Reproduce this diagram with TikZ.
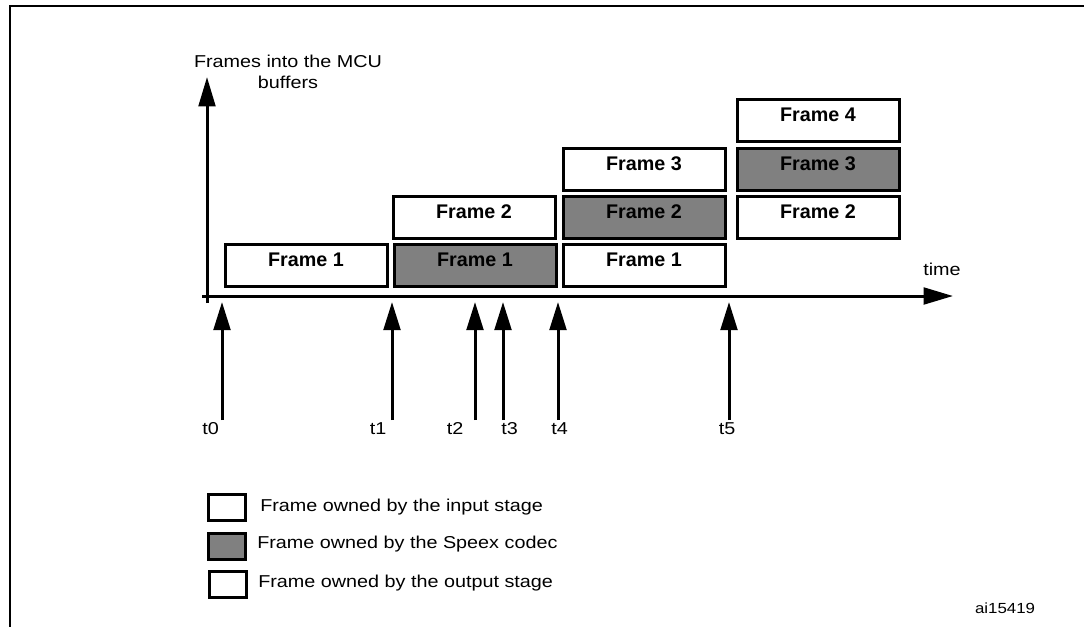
\documentclass[tikz,border=0pt]{standalone}
\usepackage{fontspec}
\setmainfont[FakeStretch=1.15]{Liberation Sans}
\newfontfamily\boldfr{Liberation Sans Bold}
\usetikzlibrary{arrows.meta}
\definecolor{codecgray}{HTML}{808080}
\tikzset{
  fr/.style={draw=black, line width=2.25pt, inner sep=0pt, minimum width=121.5pt,
    text height=16.5pt, text depth=15pt, font=\boldfr\fontsize{14.8pt}{16pt}\selectfont},
  inbox/.style={fr, fill=white},
  codecbox/.style={fr, fill=codecgray},
  lgbox/.style={draw=black, line width=2.25pt, inner sep=0pt, minimum width=27.75pt, minimum height=19.5pt},
  lbl/.style={inner sep=0pt, font=\fontsize{12.9pt}{15pt}\selectfont},
  axis/.style={line width=2.25pt, -{Triangle[length=22pt,width=12.5pt]}},
  tick/.style={line width=2.25pt, -{Triangle[length=21pt,width=12.5pt]}},
}
\begin{document}
\begin{tikzpicture}[x=0.75pt,y=-0.75pt]
\useasboundingbox (0,0) rectangle (1084,626);
% outer frame (cropped)
\draw[line width=1.6pt] (10,640) -- (10,6) -- (1090,6);
% axes
\coordinate (vbot) at (207,303);
\coordinate (vtop) at (207,77);
\coordinate (hl) at (202,296);
\coordinate (hr) at (953,296);
\draw[axis] (vbot) -- (vtop);
\draw[axis] (hl) -- (hr);
\node[lbl, anchor=base] (ylab1) at (288,67) {Frames into the MCU};
\node[lbl, anchor=base] (ylab2) at (288,88) {buffers};
\node[lbl, anchor=base] (tlab) at (942,275) {time};
% frames
\node[inbox, anchor=north] (a1) at (306,243) {Frame 1};
\node[codecbox, anchor=north] (b1) at (475,243) {Frame 1};
\node[inbox, anchor=north] (b2) at (474,195) {Frame 2};
\node[inbox, anchor=north] (c1) at (644,243) {Frame 1};
\node[codecbox, anchor=north] (c2) at (644,195) {Frame 2};
\node[inbox, anchor=north] (c3) at (644,147) {Frame 3};
\node[inbox, anchor=north] (d2) at (818,195) {Frame 2};
\node[codecbox, anchor=north] (d3) at (818,147) {Frame 3};
\node[inbox, anchor=north] (d4) at (818,98) {Frame 4};
% time markers
\foreach \n/\x/\lx in {0/222/210.5, 1/392/378, 2/475/455, 3/503/509.5, 4/558/559.5, 5/729/727}{
  \coordinate (tb\n) at (\x,420);
  \coordinate (tt\n) at (\x,302);
  \draw[tick] (tb\n) -- (tt\n);
  \node[lbl, anchor=base] (tl\n) at (\lx,434) {t\n};
}
% legend
\node[lgbox, fill=white] (lg1) at (227,507.5) {};
\node[lbl, anchor=base west] (lt1) at (260,511) {Frame owned by the input stage};
\node[lgbox, fill=codecgray] (lg2) at (227,546) {};
\node[lbl, anchor=base west] (lt2) at (257,548) {Frame owned by the Speex codec};
\node[lgbox, fill=white] (lg3) at (228,584.5) {};
\node[lbl, anchor=base west] (lt3) at (258,587) {Frame owned by the output stage};
\node[lbl, anchor=base, font=\fontsize{11pt}{13pt}\selectfont] (ref) at (1005,613) {ai15419};
\end{tikzpicture}
\end{document}
